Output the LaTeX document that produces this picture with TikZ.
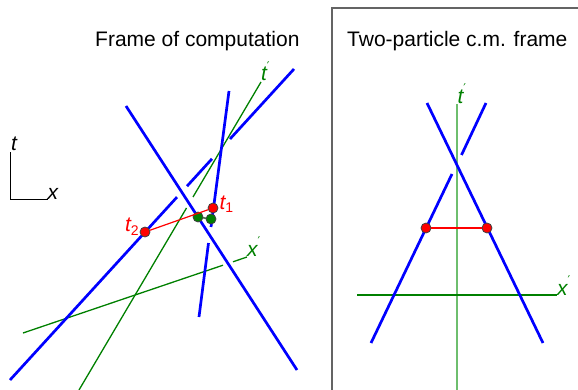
\documentclass[tikz,border=0pt]{standalone}
\usepackage{fontspec}
\setmainfont{Liberation Sans}
\newfontfamily\primefont{DejaVu Sans}
\definecolor{wlblue}{RGB}{0,0,255}
\definecolor{axgreen}{RGB}{0,128,0}
\definecolor{ltgreen}{RGB}{110,190,110}
\definecolor{boxgray}{RGB}{100,100,100}
\newcommand{\lbl}[1]{\fontsize{21}{21}\selectfont\itshape #1}
\newcommand{\prm}{\raisebox{0.95ex}{\primefont\fontsize{12}{12}\selectfont\upshape ′}}
\newcommand{\sbs}[1]{\raisebox{-3pt}{\fontsize{14}{14}\selectfont\upshape #1}}
\tikzset{
  world/.style={draw=wlblue, line width=2.7pt},
  axis/.style={draw=axgreen, line width=1.3pt},
  axislt/.style={draw=ltgreen, line width=2pt},
  simul/.style={draw=red, line width=1.2pt},
  rdot/.style={circle, fill=red, draw=black!75, line width=0.8pt, minimum size=10pt, inner sep=0pt},
  gdot/.style={circle, fill=axgreen, draw=black!75, line width=0.8pt, minimum size=10pt, inner sep=0pt},
  txt/.style={anchor=base west, inner sep=0pt, outer sep=0pt},
  title/.style={anchor=base west, inner sep=0pt, font=\fontsize{21}{21}\selectfont},
}
\begin{document}
\begin{tikzpicture}[x=1pt, y=-1pt]
\useasboundingbox (0,0) rectangle (578,390);
% ---------- titles ----------
\node[title] (title1) at (95,47) {Frame of computation};
\node[title] (title2) at (347,47) {Two-particle c.m. frame};
% ---------- right panel frame ----------
\coordinate (fb) at (332,391);
\coordinate (ftl) at (332,8);
\coordinate (ftr) at (579,8);
\draw[boxgray, line width=1.3pt] (fb) -- (ftl) -- (ftr);
% ---------- legend ----------
\coordinate (lgT) at (10.7,152);
\coordinate (lgO) at (10.7,199.5);
\coordinate (lgX) at (48,199.5);
\draw[black, line width=1.1pt] (lgT) -- (lgO) -- (lgX);
\node[txt] (lgt) at (11,150.5) {\lbl{t}};
\node[txt] (lgx) at (47.5,199.5) {\lbl{x}};
% ---------- left panel: green axes ----------
\coordinate (tpA) at (79,390);
\coordinate (tpB) at (186.5,208);
\coordinate (tpC) at (193,197);
\coordinate (tpD) at (261,82);
\draw[axis] (tpA) -- (tpB);
\draw[axis] (tpC) -- (tpD);
\node[txt, text=axgreen] (tplbl) at (261,81) {\lbl{t}\prm};
\coordinate (xpA) at (23,333);
\coordinate (xpB) at (223,265.2);
\coordinate (xpC) at (233,261.8);
\coordinate (xpD) at (247,257);
\draw[axis] (xpA) -- (xpB);
\draw[axis] (xpC) -- (xpD);
\node[txt, text=axgreen] (xplbl) at (247,256) {\lbl{x}\prm};
% ---------- left panel: world lines ----------
\coordinate (aA) at (10,380);
\coordinate (aB) at (177,197.1);
\coordinate (aC) at (187,186.2);
\coordinate (aD) at (212,158.8);
\coordinate (aE) at (230,139);
\coordinate (aF) at (294,69);
\draw[world] (aA) -- (aB);
\draw[world] (aC) -- (aD);
\draw[world] (aE) -- (aF);
\coordinate (dA) at (126,106);
\coordinate (dB) at (297,370);
\draw[world] (dA) -- (dB);
\coordinate (sA) at (229,91);
\coordinate (sB) at (211,227);
\coordinate (sC) at (208.5,243);
\coordinate (sD) at (199,317);
\draw[world] (sA) -- (sB);
\draw[world] (sC) -- (sD);
% ---------- left panel: events ----------
\node[gdot] (g1) at (198,217) {};
\node[gdot] (g2) at (211,219) {};
\draw[axis, draw=black!60!axgreen] (g1) -- (g2);
\node[rdot] (t2dot) at (145,232) {};
\node[rdot] (t1dot) at (213,208) {};
\draw[simul] (t2dot) -- (t1dot);
\node[txt, text=red] (t2lbl) at (125,232) {\lbl{t}\sbs{2}};
\node[txt, text=red] (t1lbl) at (219.5,210) {\lbl{t}\sbs{1}};
% ---------- right panel ----------
\coordinate (rtA) at (456.5,104);
\coordinate (rtB) at (456.5,391);
\draw[axislt] (rtA) -- (rtB);
\node[txt, text=axgreen] (rtlbl) at (457.5,103.5) {\lbl{t}\prm};
\coordinate (rxA) at (357,295);
\coordinate (rxB) at (557,295);
\draw[axis] (rxA) -- (rxB);
\node[txt, text=axgreen] (rxlbl) at (557,295) {\lbl{x}\prm};
\coordinate (rdA) at (427,103);
\coordinate (rdB) at (543,343);
\draw[world] (rdA) -- (rdB);
\coordinate (raA) at (371,343);
\coordinate (raB) at (452,174);
\coordinate (raC) at (461.5,155);
\coordinate (raD) at (486,103);
\draw[world] (raA) -- (raB);
\draw[world] (raC) -- (raD);
\node[rdot] (r1) at (426,228) {};
\node[rdot] (r2) at (487,228) {};
\draw[simul] (r1) -- (r2);
\end{tikzpicture}
\end{document}
